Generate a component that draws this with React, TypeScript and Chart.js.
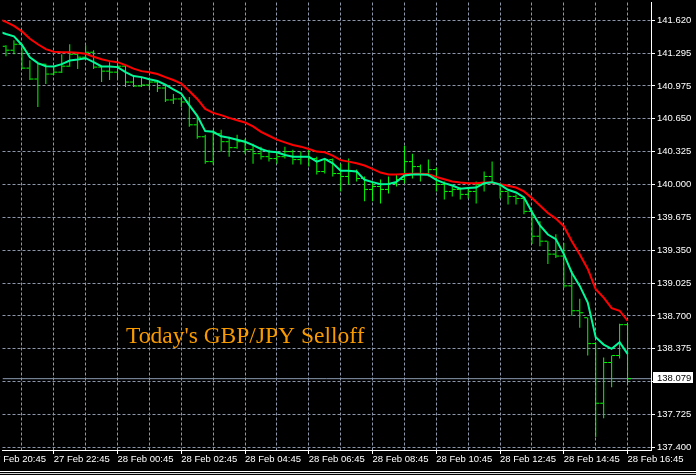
import React, { useEffect, useRef } from 'react';
import { Chart, registerables } from 'chart.js';

Chart.register(...registerables);

// ---- Data (M15 bars, index 0 = 27 Feb 21:15, index 78 = 28 Feb 16:45) ----
const barOpen = [
  141.367, 141.328, 141.387, 141.151, 141.043, 141.190, 141.092, 141.111, 141.170, 141.288,
  141.259, 141.308, 141.161, 141.121, 141.111, 141.170, 141.013, 140.974, 140.984, 141.013,
  140.954, 140.836, 140.846, 140.816, 140.590, 140.472, 140.226, 140.502, 140.423, 140.364,
  140.423, 140.344, 140.305, 140.275, 140.256, 140.275, 140.325, 140.246, 140.275, 140.256,
  140.128, 140.246, 140.108, 140.079, 140.128, 140.059, 139.951, 139.980, 139.951, 140.010,
  140.049, 140.226, 140.177, 140.108, 140.147, 140.000, 139.931, 139.951, 139.902, 139.931,
  140.000, 140.079, 140.010, 139.931, 139.882, 139.862, 139.734, 139.488, 139.439, 139.311,
  139.292, 138.997, 138.751, 138.682, 138.426, 137.836, 138.239, 138.308, 138.613,
];
const barHigh = [
  141.377, 141.426, 141.392, 141.229, 141.200, 141.195, 141.161, 141.288, 141.387, 141.298,
  141.377, 141.328, 141.170, 141.210, 141.239, 141.180, 141.082, 141.062, 141.043, 141.023,
  140.993, 140.895, 140.866, 140.866, 140.688, 140.492, 140.541, 140.541, 140.472, 140.492,
  140.452, 140.403, 140.374, 140.344, 140.325, 140.374, 140.344, 140.325, 140.344, 140.275,
  140.256, 140.256, 140.206, 140.256, 140.147, 140.079, 140.029, 140.049, 140.079, 140.098,
  140.384, 140.305, 140.197, 140.246, 140.167, 140.029, 139.980, 139.970, 139.961, 140.029,
  140.128, 140.226, 140.013, 139.931, 139.902, 139.872, 139.744, 139.636, 139.439, 139.508,
  139.420, 139.144, 138.869, 138.682, 138.436, 138.288, 138.308, 138.623, 138.623,
];
const barLow = [
  141.269, 141.288, 141.141, 141.033, 140.767, 140.993, 141.082, 141.102, 141.165, 141.141,
  141.250, 141.141, 141.013, 141.033, 141.043, 140.964, 140.964, 140.964, 140.934, 140.915,
  140.816, 140.797, 140.767, 140.570, 140.452, 140.206, 140.197, 140.325, 140.275, 140.354,
  140.305, 140.206, 140.246, 140.226, 140.206, 140.256, 140.197, 140.197, 140.177, 140.098,
  140.108, 140.079, 139.931, 140.000, 140.029, 139.833, 139.833, 139.813, 139.911, 139.980,
  140.010, 140.059, 140.029, 140.079, 139.931, 139.852, 139.882, 139.852, 139.862, 139.813,
  139.931, 140.010, 139.862, 139.803, 139.803, 139.705, 139.410, 139.390, 139.213, 139.272,
  138.977, 138.701, 138.583, 138.308, 137.501, 137.688, 137.993, 138.279, 138.033,
];
const barClose = [
  141.328, 141.387, 141.151, 141.043, 141.190, 141.092, 141.111, 141.170, 141.288, 141.259,
  141.308, 141.161, 141.121, 141.111, 141.170, 141.013, 140.974, 140.984, 141.013, 140.954,
  140.836, 140.846, 140.816, 140.590, 140.472, 140.226, 140.502, 140.423, 140.364, 140.423,
  140.344, 140.305, 140.275, 140.256, 140.275, 140.325, 140.246, 140.275, 140.256, 140.128,
  140.246, 140.108, 140.079, 140.128, 140.059, 139.951, 139.980, 139.951, 140.010, 140.049,
  140.226, 140.177, 140.108, 140.147, 140.000, 139.931, 139.951, 139.902, 139.931, 140.000,
  140.079, 140.010, 139.931, 139.882, 139.862, 139.734, 139.488, 139.439, 139.311, 139.292,
  138.997, 138.751, 138.731, 138.426, 137.836, 138.239, 138.308, 138.613, 138.079,
];

// Moving averages, first value belongs to bar index -1
const maStartBar = -1;
const maFast = [
  141.515, 141.488, 141.466, 141.380, 141.259, 141.200, 141.170, 141.168, 141.190, 141.226,
  141.236, 141.249, 141.210, 141.168, 141.168, 141.161, 141.111, 141.072, 141.062, 141.040,
  141.023, 140.987, 140.941, 140.898, 140.784, 140.679, 140.528, 140.521, 140.477, 140.462,
  140.443, 140.423, 140.390, 140.351, 140.325, 140.318, 140.292, 140.275, 140.275, 140.275,
  140.226, 140.253, 140.209, 140.135, 140.135, 140.128, 140.046, 140.023, 140.003, 140.005,
  140.026, 140.088, 140.098, 140.098, 140.095, 140.046, 140.013, 139.990, 139.958, 139.964,
  139.970, 140.013, 140.023, 139.997, 139.948, 139.921, 139.872, 139.727, 139.594, 139.505,
  139.459, 139.311, 139.127, 138.997, 138.832, 138.488, 138.416, 138.374, 138.439, 138.325,
];
const maSlow = [
  141.638, 141.608, 141.569, 141.515, 141.441, 141.387, 141.338, 141.313, 141.308, 141.308,
  141.303, 141.293, 141.264, 141.239, 141.220, 141.210, 141.180, 141.146, 141.121, 141.111,
  141.092, 141.062, 141.033, 140.998, 140.925, 140.846, 140.747, 140.708, 140.686, 140.659,
  140.636, 140.613, 140.575, 140.521, 140.482, 140.443, 140.416, 140.390, 140.374, 140.351,
  140.325, 140.318, 140.285, 140.241, 140.226, 140.209, 140.187, 140.154, 140.118, 140.098,
  140.098, 140.103, 140.105, 140.105, 140.101, 140.074, 140.052, 140.029, 140.020, 140.013,
  140.013, 140.020, 140.020, 140.003, 139.987, 139.970, 139.931, 139.865, 139.793, 139.718,
  139.662, 139.587, 139.439, 139.308, 139.164, 138.964, 138.881, 138.777, 138.751, 138.652,
];

const timeTickBars = [-2, 6, 14, 22, 30, 38, 46, 54, 62, 70, 78];
const timeTickLabels = [
  '27 Feb 20:45', '27 Feb 22:45', '28 Feb 00:45', '28 Feb 02:45', '28 Feb 04:45', '28 Feb 06:45',
  '28 Feb 08:45', '28 Feb 10:45', '28 Feb 12:45', '28 Feb 14:45', '28 Feb 16:45',
];
const gridBars = [-2, 2, 6, 10, 14, 18, 22, 26, 30, 34, 38, 42, 46, 50, 54, 58, 62, 66, 70, 74, 78];
const priceTickLabels = [
  '137.400', '137.725', '138.050', '138.375', '138.700', '139.025', '139.350',
  '139.675', '140.000', '140.325', '140.650', '140.975', '141.295', '141.620',
];
const bidPrice = barClose[barClose.length - 1];
const titleText = "Today's GBP/JPY Selloff";

// ---- Styles ----
const X_MIN = -0.4375;
const X_MAX = 80.9375;
const Y_MIN = 137.3735;
const Y_MAX = 141.8;
const GRID = '#8d97aa';
const BAR = '#00ff00';
const MA_FAST = '#00fa9a';
const MA_SLOW = '#ff0000';
const BID_LINE = '#8a9ab0';
const AXIS_FONT = { family: '"Liberation Sans", Arial, sans-serif', size: 9.5 };

const overlayPlugin = {
  id: 'mtOverlay',
  beforeDraw(chart: any) {
    const { ctx, width, height } = chart;
    ctx.save();
    ctx.fillStyle = '#000';
    ctx.fillRect(0, 0, width, height);
    ctx.restore();
  },
  afterDraw(chart: any) {
    const { ctx, chartArea, scales, width } = chart;
    const x = scales.x;
    const y = scales.y;
    ctx.save();
    // bid price label box
    const by = Math.floor(y.getPixelForValue(bidPrice));
    ctx.fillStyle = '#ffffff';
    ctx.fillRect(chartArea.right + 2, by - 6, 40, 11);
    ctx.fillStyle = '#000000';
    ctx.font = `${AXIS_FONT.size}px ${AXIS_FONT.family}`;
    ctx.textBaseline = 'middle';
    ctx.textAlign = 'left';
    ctx.fillText(bidPrice.toFixed(3), chartArea.right + 6, by);
    // chart title text object
    ctx.fillStyle = '#f89a00';
    ctx.font = '23.5px "Liberation Serif", "Times New Roman", serif';
    ctx.textBaseline = 'alphabetic';
    ctx.fillText(titleText, x.getPixelForValue(15.06), y.getPixelForValue(138.43));
    // window frame lines at the bottom
    ctx.fillStyle = '#ffffff';
    ctx.fillRect(0, 471, width, 1);
    ctx.fillStyle = '#d0d0d0';
    ctx.fillRect(0, 473, width, 1);
    ctx.restore();
  },
};

export default function App() {
  const ref = useRef<HTMLCanvasElement | null>(null);

  useEffect(() => {
    if (!ref.current) return;
    const chart = new Chart(ref.current, {
      type: 'line',
      data: {
        datasets: [
          {
            type: 'line',
            label: 'Bid',
            data: [{ x: X_MIN, y: bidPrice }, { x: X_MAX, y: bidPrice }],
            borderColor: BID_LINE,
            borderWidth: 1,
            pointRadius: 0,
            order: 6,
          } as any,
          {
            type: 'bar',
            label: 'Range',
            data: barHigh.map((h, i) => ({ x: i, y: [barLow[i], h] })),
            backgroundColor: BAR,
            borderWidth: 0,
            barThickness: 1,
            inflateAmount: 0,
            order: 5,
          } as any,
          {
            type: 'scatter',
            label: 'Open',
            data: barOpen.map((v, i) => ({ x: i - 0.25, y: v })),
            pointStyle: 'line',
            pointRadius: 1.5,
            pointHoverRadius: 1.5,
            borderColor: BAR,
            pointBorderColor: BAR,
            pointBorderWidth: 1,
            showLine: false,
            order: 4,
          } as any,
          {
            type: 'scatter',
            label: 'Close',
            data: barClose.map((v, i) => ({ x: i + 0.25, y: v })),
            pointStyle: 'line',
            pointRadius: 1.5,
            pointHoverRadius: 1.5,
            borderColor: BAR,
            pointBorderColor: BAR,
            pointBorderWidth: 1,
            showLine: false,
            order: 3,
          } as any,
          {
            type: 'line',
            label: 'MA slow',
            data: maSlow.map((v, k) => ({ x: k + maStartBar, y: v })),
            borderColor: MA_SLOW,
            borderWidth: 2,
            pointRadius: 0,
            tension: 0,
            order: 2,
          } as any,
          {
            type: 'line',
            label: 'MA fast',
            data: maFast.map((v, k) => ({ x: k + maStartBar, y: v })),
            borderColor: MA_FAST,
            borderWidth: 2,
            pointRadius: 0,
            tension: 0,
            order: 1,
          } as any,
        ],
      },
      options: {
        animation: false,
        responsive: false,
        events: [],
        layout: { padding: 0 },
        plugins: {
          legend: { display: false },
          tooltip: { enabled: false },
          title: { display: false },
        },
        scales: {
          x: {
            type: 'linear',
            position: 'bottom',
            min: X_MIN,
            max: X_MAX,
            bounds: 'data',
            offset: false,
            afterBuildTicks: (s: any) => {
              s.ticks = gridBars.map((v) => ({ value: v }));
            },
            afterFit: (s: any) => {
              s.height = 25;
              s.paddingLeft = 0;
              s.paddingRight = 0;
            },
            grid: {
              display: true,
              drawOnChartArea: true,
              drawTicks: true,
              offset: false,
              color: GRID,
              lineWidth: 1,
              tickLength: 4,
              tickBorderDash: [],
              tickColor: (c: any) =>
                c.tick && timeTickBars.indexOf(c.tick.value) >= 0 ? '#ffffff' : 'rgba(0,0,0,0)',
            },
            border: { display: true, color: '#ffffff', width: 1, dash: [3, 2] },
            ticks: {
              autoSkip: false,
              maxRotation: 0,
              minRotation: 0,
              align: 'start',
              padding: 0,
              color: '#ffffff',
              font: AXIS_FONT,
              callback: (v: any) => {
                const k = timeTickBars.indexOf(v);
                return k >= 0 ? timeTickLabels[k] : '';
              },
            },
          } as any,
          y: {
            type: 'linear',
            position: 'right',
            min: Y_MIN,
            max: Y_MAX,
            bounds: 'data',
            beginAtZero: false,
            afterBuildTicks: (s: any) => {
              s.ticks = priceTickLabels.map((l) => ({ value: parseFloat(l) }));
            },
            afterFit: (s: any) => {
              s.width = 45;
              s.paddingTop = 0;
              s.paddingBottom = 0;
            },
            grid: {
              display: true,
              color: GRID,
              lineWidth: 1,
              tickLength: 4,
              tickBorderDash: [],
              tickColor: '#ffffff',
            },
            border: { display: true, color: '#ffffff', width: 1, dash: [3, 2] },
            ticks: {
              padding: 2,
              color: '#ffffff',
              font: AXIS_FONT,
              callback: (v: any, i: number) =>
                Math.abs(v - bidPrice) < 0.05 ? '' : priceTickLabels[i],
            },
          } as any,
        },
      } as any,
      plugins: [overlayPlugin],
    });
    return () => chart.destroy();
  }, []);

  return (
    <div style={{ position: 'fixed', left: 0, top: 0, width: 696, height: 475, background: '#000' }}>
      <canvas ref={ref} width={696} height={475} style={{ display: 'block', width: 696, height: 475 }} />
    </div>
  );
}
